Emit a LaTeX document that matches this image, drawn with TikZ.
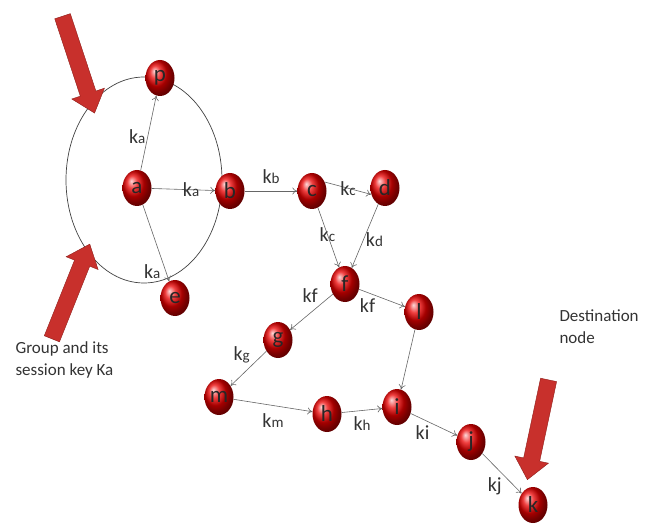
\documentclass[tikz,border=0pt]{standalone}
\usepackage{fontspec}
\setmainfont{Carlito}
\usetikzlibrary{arrows.meta, shapes.geometric, shapes.arrows}
\definecolor{pointerRed}{HTML}{C8302C}
\definecolor{pointerEdge}{HTML}{8E1E1A}
\newcommand{\keyname}[1]{k{\fontsize{15}{15}\selectfont #1}}
\tikzset{
  %% red ball for a network node
  ball/.style    = {ellipse, minimum width=29pt, minimum height=36pt, inner sep=0pt,
                    shading=ball, ball color=red!92!black, text=black!85,
                    font=\fontsize{23}{23}\selectfont},
  %% thin grey hop between two nodes
  hop/.style     = {-{To[length=5pt, width=7pt]}, draw=black!60, line width=0.6pt},
  keylbl/.style  = {font=\fontsize{20}{20}\selectfont, text=black!80, inner sep=2pt},
  %% big red pointer arrow
  pointer/.style = {single arrow, draw=pointerEdge, fill=pointerRed, inner sep=8pt,
                    minimum height=102pt, single arrow head extend=9pt,
                    single arrow tip angle=80},
  caption/.style = {font=\fontsize{17}{22}\selectfont, text=black!80, align=left},
}

\begin{document}
\begin{tikzpicture}[x=1pt, y=-1pt]
\useasboundingbox (0,0) rectangle (653,529);

% group boundary
\node[ellipse, draw=black!75, line width=0.7pt, minimum width=156pt, minimum height=206pt] (group) at (144,180) {};

% nodes
\node[ball] (p) at (160,78)  {p};
\node[ball] (a) at (137,188) {a};
\node[ball] (b) at (230,191) {b};
\node[ball] (e) at (175,298) {e};
\node[ball] (c) at (312,191) {c};
\node[ball] (d) at (385,188) {d};
\node[ball] (f) at (345,284) {f};
\node[ball] (l) at (419,312) {l};
\node[ball] (g) at (278,340) {g};
\node[ball] (m) at (219,397) {m};
\node[ball] (h) at (327,414) {h};
\node[ball] (i) at (397,407) {i};
\node[ball] (j) at (471,442) {j};
\node[ball] (k) at (533,505) {k};

% hops with their keys
\draw[hop] (a) -- node[keylbl, left, pos=0.45] {\keyname{a}} (p);
\draw[hop] (a) -- node[keylbl, pos=0.62] {\keyname{a}} (b);
\draw[hop] (a) -- node[keylbl, below left, pos=0.75] {\keyname{a}} (e);
\draw[hop] (b) -- node[keylbl, above=5pt] {\keyname{b}} (c);
\draw[hop] (c.35) -- node[keylbl] {\keyname{c}} (d.205);
\draw[hop] (c) -- node[keylbl, pos=0.45] {\keyname{c}} (f);
\draw[hop] (d) -- node[keylbl, right, pos=0.55] {\keyname{d}} (f);
\draw[hop] (f) -- node[keylbl, above left, pos=0.3] {kf} (g);
\draw[hop] (f) -- node[keylbl, below left, pos=0.4] {kf} (l);
\draw[hop] (g) -- node[keylbl, above left, pos=0.4] {\keyname{g}} (m);
\draw[hop] (m) -- node[keylbl, below=6pt] {\keyname{m}} (h);
\draw[hop] (h) -- node[keylbl, below=4pt] {\keyname{h}} (i);
\draw[hop] (l) -- (i);
\draw[hop] (i) -- node[keylbl, below left, pos=0.45] {ki} (j);
\draw[hop] (j) -- node[keylbl, below left, pos=0.55] {kj} (k);

% pointers
\node[pointer, rotate=-71.7] (ptrTop) at (77,60) {};
\node[pointer, rotate=68.2]  (ptrLow) at (69,296) {};
\node[pointer, rotate=-102]  (ptrDest) at (539,425) {};

% captions
\node[caption, anchor=north west] (grpText) at (12,338) {Group and its\\session key Ka};
\node[caption, anchor=north west] (destText) at (556,306) {Destination\\node};
\end{tikzpicture}
\end{document}
